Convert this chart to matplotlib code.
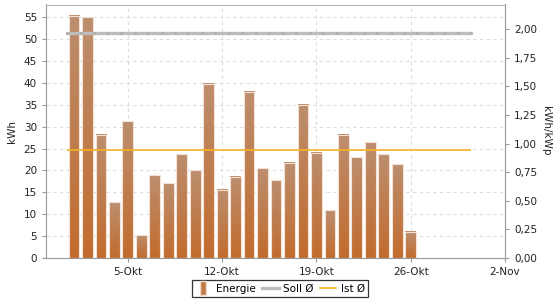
import numpy as np
import matplotlib
matplotlib.use("Agg")
import matplotlib.pyplot as plt
from matplotlib.patches import Rectangle, Patch
from matplotlib.lines import Line2D
from matplotlib.legend_handler import HandlerPatch
from matplotlib.ticker import FuncFormatter

# Daily energy in October (day of month -> kWh)
days = [1, 2, 3, 4, 5, 6, 7, 8, 9, 10, 11, 12, 13,
        14, 15, 16, 17, 18, 19, 20, 21, 22, 23, 24, 25, 26]
energie = [55.3, 55.0, 28.1, 12.7, 31.2, 5.2, 18.9, 17.1, 23.7, 20.0, 39.8, 15.6, 18.6,
           38.0, 20.5, 17.8, 21.8, 35.0, 24.0, 10.9, 28.1, 23.0, 26.4, 23.7, 21.4, 6.0]

# Average lines (kWh/kWp), plotted over the whole month
avg_x = [0.5, 30.5]
soll_avg = [1.963, 1.963]
ist_avg = [0.946, 0.946]

tick_days = [5, 12, 19, 26, 33]
tick_labels = ["5-Okt", "12-Okt", "19-Okt", "26-Okt", "2-Nov"]

plt.rcParams["font.family"] = "DejaVu Sans"
plt.rcParams["font.size"] = 7.5
text_col = "#222222"
spine_col = "#999999"

fig = plt.figure(figsize=(5.6, 3.0), dpi=100)
ax = fig.add_axes([0.0821, 0.14, 0.8197, 0.845])
ax2 = ax.twinx()

# bars with vertical gradient (light top, orange bottom)
grad = np.linspace(0, 1, 64).reshape(-1, 1)
top_c = np.array([188, 142, 110]) / 255
bot_c = np.array([194, 108, 46]) / 255
img = top_c * (1 - grad[..., None]) + bot_c * grad[..., None]
w = 0.8
for d, v in zip(days, energie):
    ax.imshow(img, extent=[d - w / 2, d + w / 2, 0, v], aspect="auto",
              origin="upper", zorder=2, interpolation="bilinear")
    ax.add_patch(Rectangle((d - w / 2, 0), w, v, fill=False,
                           edgecolor="#f4e2d6", linewidth=0.8, zorder=3))

ax.set_xlim(-1.08, 33)
ax.set_ylim(0, 57.9)
ax.set_yticks(range(0, 56, 5))
ax.set_xticks(tick_days)
ax.set_xticklabels(tick_labels)
ax.set_ylabel("kWh", color=text_col, labelpad=5)
ax.grid(True, color="#dddddd", linestyle=(0, (3, 3)), linewidth=0.8)
ax.set_axisbelow(True)

ax2.plot(avg_x, soll_avg, color="#bdbdbd", linewidth=2.4, solid_capstyle="butt", zorder=4)
ax2.plot(np.arange(0.5, 31, 1.0), [soll_avg[0]] * 31, linestyle="none", marker="s",
         markersize=1.2, color="#b0b0b0", zorder=5)
ax2.plot(avg_x, ist_avg, color="#f5b324", linewidth=1.2, solid_capstyle="butt", zorder=4)
ax2.set_ylim(0, 2.215)
ax2.set_yticks(np.arange(0, 2.01, 0.25))
ax2.yaxis.set_major_formatter(FuncFormatter(lambda v, p: f"{v:.2f}".replace(".", ",")))
ax2.set_ylabel("kWh/kWp", rotation=270, color=text_col, labelpad=10)

for a in (ax, ax2):
    for s in a.spines.values():
        s.set_color(spine_col)
    a.spines["top"].set_visible(False)
    a.tick_params(colors=spine_col, labelcolor=text_col, length=3, width=0.8)
ax.spines["right"].set_visible(False)
ax2.spines["left"].set_visible(False)
ax2.spines["bottom"].set_visible(False)
ax.spines["top"].set_visible(True)
ax.spines["top"].set_color("#bbbbbb")


def narrow_patch(legend, orig_handle, xdescent, ydescent, width, height, fontsize):
    return Rectangle((xdescent + width * 0.3, ydescent - 2.5), width * 0.33, height + 5)


handles = [Patch(facecolor="#c07a45", edgecolor="#f2dccd", label="Energie"),
           Line2D([], [], color="#bdbdbd", linewidth=2.4, label="Soll Ø"),
           Line2D([], [], color="#f5b324", linewidth=1.2, label="Ist Ø")]
leg = fig.legend(handles=handles, loc="center", bbox_to_anchor=(0.5, 0.038), ncol=3,
                 frameon=True, fancybox=False, edgecolor="black", fontsize=7.5,
                 handlelength=1.6, handletextpad=0.4, columnspacing=0.6,
                 borderpad=0.35, handler_map={Patch: HandlerPatch(patch_func=narrow_patch)})
leg.get_frame().set_linewidth(0.9)

fig.savefig("out.png", dpi=100)
